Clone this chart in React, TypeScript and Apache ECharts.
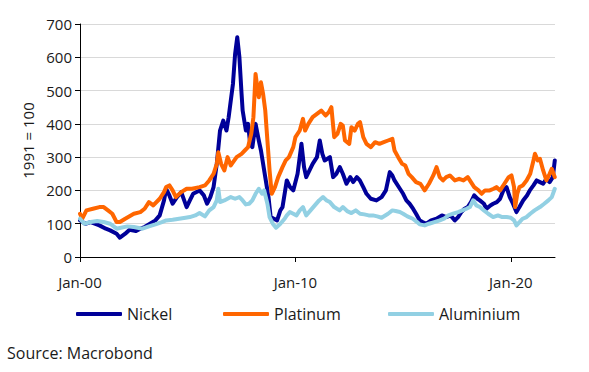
import React, { useEffect, useRef } from "react";
import * as echarts from "echarts";

const categories = ["Nickel", "Platinum", "Aluminium"];
const xTickValues = [2000, 2010, 2020];
const xTickLabels = ["Jan-00", "Jan-10", "Jan-20"];
const yTicks = [0, 100, 200, 300, 400, 500, 600, 700];

const nickelX = [2000.0, 2000.25, 2000.5, 2000.9, 2001.2, 2001.4, 2001.7, 2001.85, 2002.1, 2002.3, 2002.6, 2002.8, 2003.0, 2003.25, 2003.5, 2003.7, 2003.9, 2004.0, 2004.15, 2004.3, 2004.5, 2004.7, 2004.95, 2005.1, 2005.25, 2005.55, 2005.75, 2005.9, 2006.05, 2006.2, 2006.35, 2006.5, 2006.65, 2006.8, 2006.9, 2007.0, 2007.1, 2007.2, 2007.3, 2007.4, 2007.5, 2007.55, 2007.7, 2007.8, 2007.9, 2008.0, 2008.15, 2008.3, 2008.4, 2008.6, 2008.75, 2008.85, 2009.0, 2009.15, 2009.3, 2009.4, 2009.6, 2009.75, 2009.9, 2010.1, 2010.28, 2010.4, 2010.5, 2010.8, 2011.0, 2011.13, 2011.25, 2011.36, 2011.6, 2011.75, 2011.9, 2012.06, 2012.2, 2012.37, 2012.55, 2012.68, 2012.85, 2012.99, 2013.15, 2013.3, 2013.5, 2013.76, 2014.0, 2014.2, 2014.38, 2014.5, 2014.6, 2014.85, 2015.0, 2015.15, 2015.3, 2015.46, 2015.6, 2015.77, 2015.9, 2016.08, 2016.3, 2016.55, 2016.8, 2017.0, 2017.2, 2017.4, 2017.55, 2017.7, 2017.85, 2018.0, 2018.15, 2018.3, 2018.45, 2018.56, 2018.75, 2018.87, 2019.05, 2019.18, 2019.35, 2019.5, 2019.65, 2019.8, 2019.95, 2020.1, 2020.26, 2020.4, 2020.57, 2020.75, 2020.88, 2021.05, 2021.2, 2021.35, 2021.5, 2021.65, 2021.8, 2021.95, 2022.04];
const nickelValues = [110, 100, 105, 95, 85, 80, 70, 58, 70, 82, 78, 85, 90, 100, 110, 125, 170, 205, 185, 160, 180, 195, 150, 170, 190, 200, 185, 160, 180, 210, 280, 380, 410, 380, 420, 470, 520, 610, 660, 600, 490, 440, 380, 400, 340, 330, 400, 350, 320, 240, 180, 120, 115, 110, 140, 150, 230, 210, 200, 250, 340, 270, 240, 280, 300, 350, 310, 290, 300, 240, 250, 270, 250, 220, 240, 225, 240, 230, 210, 190, 175, 170, 180, 200, 255, 245, 230, 205, 190, 170, 160, 145, 130, 110, 105, 100, 110, 115, 125, 120, 125, 110, 120, 135, 145, 150, 165, 185, 175, 170, 160, 145, 155, 160, 165, 175, 200, 210, 180, 160, 135, 150, 170, 185, 200, 215, 230, 225, 220, 235, 225, 240, 290];

const platinumX = [2000.0, 2000.1, 2000.3, 2000.6, 2000.9, 2001.1, 2001.3, 2001.5, 2001.7, 2001.85, 2002.1, 2002.5, 2002.8, 2003.0, 2003.2, 2003.4, 2003.7, 2003.9, 2004.0, 2004.15, 2004.3, 2004.45, 2004.7, 2004.95, 2005.2, 2005.55, 2005.8, 2006.0, 2006.2, 2006.35, 2006.42, 2006.55, 2006.7, 2006.85, 2007.0, 2007.27, 2007.5, 2007.65, 2007.8, 2007.95, 2008.05, 2008.15, 2008.25, 2008.3, 2008.4, 2008.5, 2008.6, 2008.7, 2008.8, 2008.9, 2009.05, 2009.2, 2009.4, 2009.55, 2009.7, 2009.9, 2010.0, 2010.2, 2010.35, 2010.45, 2010.6, 2010.8, 2011.0, 2011.2, 2011.4, 2011.55, 2011.67, 2011.8, 2011.95, 2012.1, 2012.2, 2012.3, 2012.5, 2012.6, 2012.75, 2012.9, 2013.0, 2013.15, 2013.3, 2013.5, 2013.7, 2013.9, 2014.1, 2014.3, 2014.5, 2014.6, 2014.77, 2014.95, 2015.1, 2015.25, 2015.4, 2015.6, 2015.8, 2016.0, 2016.2, 2016.4, 2016.55, 2016.7, 2016.85, 2017.0, 2017.17, 2017.4, 2017.6, 2017.8, 2018.0, 2018.15, 2018.3, 2018.5, 2018.64, 2018.8, 2019.02, 2019.2, 2019.33, 2019.5, 2019.7, 2019.9, 2020.03, 2020.15, 2020.2, 2020.3, 2020.4, 2020.55, 2020.73, 2020.9, 2021.05, 2021.12, 2021.25, 2021.35, 2021.5, 2021.65, 2021.8, 2021.9, 2022.04];
const platinumValues = [130, 115, 140, 145, 150, 150, 140, 130, 105, 105, 115, 130, 135, 145, 165, 155, 175, 195, 210, 215, 200, 180, 195, 205, 205, 210, 215, 230, 250, 280, 315, 280, 260, 300, 275, 300, 310, 320, 330, 370, 420, 550, 500, 480, 525, 490, 440, 350, 260, 190, 210, 240, 270, 290, 300, 330, 360, 380, 415, 380, 400, 420, 430, 440, 425, 435, 450, 360, 370, 400, 395, 350, 340, 390, 380, 400, 405, 360, 340, 330, 345, 340, 345, 350, 355, 320, 300, 280, 275, 250, 240, 225, 220, 200, 220, 245, 270, 240, 230, 240, 245, 230, 235, 230, 240, 225, 210, 200, 190, 200, 200, 205, 210, 200, 220, 240, 245, 210, 150, 190, 210, 215, 230, 250, 290, 310, 290, 295, 260, 230, 250, 265, 240];

const aluminiumX = [2000.0, 2000.2, 2000.5, 2000.8, 2001.1, 2001.4, 2001.7, 2001.9, 2002.2, 2002.5, 2002.9, 2003.2, 2003.5, 2003.8, 2004.0, 2004.3, 2004.6, 2004.9, 2005.1, 2005.35, 2005.55, 2005.8, 2006.0, 2006.2, 2006.35, 2006.42, 2006.5, 2006.7, 2007.0, 2007.2, 2007.4, 2007.55, 2007.7, 2007.85, 2008.0, 2008.15, 2008.3, 2008.45, 2008.55, 2008.7, 2008.8, 2008.95, 2009.1, 2009.3, 2009.5, 2009.6, 2009.74, 2009.9, 2010.05, 2010.2, 2010.35, 2010.5, 2010.7, 2010.9, 2011.1, 2011.28, 2011.45, 2011.6, 2011.8, 2012.05, 2012.2, 2012.4, 2012.6, 2012.8, 2013.0, 2013.2, 2013.4, 2013.6, 2013.8, 2014.0, 2014.3, 2014.5, 2014.65, 2014.85, 2015.0, 2015.2, 2015.45, 2015.65, 2015.77, 2016.0, 2016.2, 2016.45, 2016.7, 2016.9, 2017.1, 2017.32, 2017.55, 2017.75, 2017.94, 2018.1, 2018.25, 2018.4, 2018.56, 2018.75, 2018.95, 2019.18, 2019.4, 2019.6, 2019.8, 2020.0, 2020.15, 2020.26, 2020.4, 2020.55, 2020.73, 2020.9, 2021.1, 2021.35, 2021.55, 2021.74, 2021.9, 2022.04];
const aluminiumValues = [115, 100, 105, 108, 105, 100, 85, 88, 92, 90, 85, 92, 98, 105, 110, 112, 115, 118, 120, 125, 132, 122, 140, 150, 170, 205, 165, 170, 180, 175, 180, 170, 158, 160, 170, 190, 205, 190, 200, 160, 120, 100, 88, 100, 115, 125, 135, 130, 125, 140, 150, 125, 140, 155, 170, 180, 170, 165, 150, 140, 150, 138, 132, 140, 130, 128, 125, 125, 122, 118, 130, 140, 138, 135, 130, 122, 115, 105, 98, 95, 100, 105, 110, 115, 125, 130, 135, 140, 145, 150, 170, 155, 150, 140, 130, 120, 125, 120, 120, 118, 110, 95, 105, 115, 120, 130, 140, 150, 160, 170, 180, 205];

const colors = ["#000099", "#FF6600", "#92D0E3"];
const FONT = "'Segoe UI', 'Open Sans', sans-serif";
const TEXT = "#1a1a1a";

const zip = (xs: number[], ys: number[]) => xs.map((x, i) => [x, ys[i]]);

export default function App() {
  const ref = useRef<HTMLDivElement>(null);
  useEffect(() => {
    if (!ref.current) return;
    const chart = echarts.init(ref.current, null, { renderer: "svg" });
    const seriesData = [
      zip(nickelX, nickelValues),
      zip(platinumX, platinumValues),
      zip(aluminiumX, aluminiumValues),
    ];
    const legendLefts = [76, 223, 388];
    chart.setOption({
      animation: false,
      backgroundColor: "#ffffff",
      textStyle: { fontFamily: FONT },
      grid: { left: 80, right: 34, top: 24, bottom: 115, containLabel: false },
      xAxis: {
        type: "value",
        min: 2000,
        max: 2022.05,
        interval: 10,
        axisLine: { show: true, lineStyle: { color: "#000", width: 1 } },
        axisTick: { show: true, length: 5, lineStyle: { color: "#000" }, customValues: xTickValues },
        axisLabel: {
          color: TEXT,
          fontSize: 15,
          fontFamily: FONT,
          margin: 17,
          customValues: xTickValues,
          formatter: (v: number) => {
            const i = xTickValues.indexOf(Math.round(v));
            return i >= 0 ? xTickLabels[i] : "";
          },
        },
        splitLine: { show: false },
      },
      yAxis: {
        type: "value",
        min: yTicks[0],
        max: yTicks[yTicks.length - 1],
        interval: 100,
        name: "1991 = 100",
        nameLocation: "middle",
        nameGap: 44,
        nameTextStyle: { color: TEXT, fontSize: 15, fontFamily: FONT },
        axisLine: { show: true, lineStyle: { color: "#000", width: 1 } },
        axisTick: { show: true, length: 5, lineStyle: { color: "#000" } },
        axisLabel: { color: TEXT, fontSize: 15, fontFamily: FONT, margin: 8 },
        splitLine: { show: true, lineStyle: { color: "#D9D9D9", width: 1 } },
      },
      legend: categories.map((c, i) => ({
        data: [c],
        left: legendLefts[i],
        top: 306,
        icon: "roundRect",
        itemWidth: 46,
        itemHeight: 4,
        itemGap: 0,
        textStyle: { color: TEXT, fontSize: 16, fontFamily: FONT, padding: [0, 0, 0, 0] },
        padding: 0,
      })),
      graphic: [
        {
          type: "text",
          left: 7,
          top: 345,
          style: { text: "Source: Macrobond", fill: TEXT, fontSize: 16, fontFamily: FONT },
        },
      ],
      series: categories.map((c, i) => ({
        name: c,
        type: "line",
        data: seriesData[i],
        showSymbol: false,
        symbol: "none",
        lineStyle: { color: colors[i], width: 4, cap: "round", join: "round" },
        itemStyle: { color: colors[i] },
      })),
    });
    return () => chart.dispose();
  }, []);
  return (
    <div
      ref={ref}
      style={{ position: "fixed", left: 0, top: 0, width: 589, height: 372, background: "#fff" }}
    />
  );
}
